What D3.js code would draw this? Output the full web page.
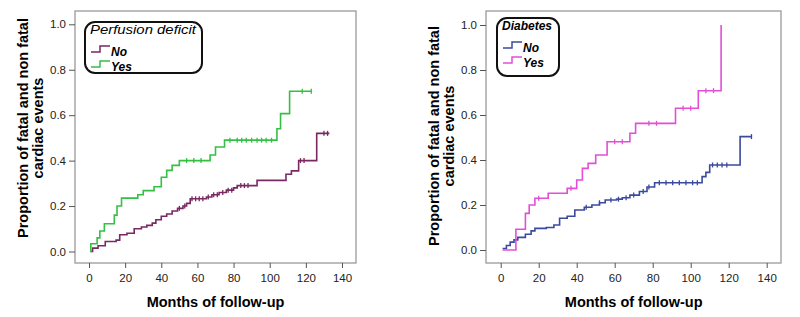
<!DOCTYPE html>
<html>
<head>
<meta charset="utf-8">
<script src="https://cdn.jsdelivr.net/npm/d3@7"></script>
<style>
  body { margin: 0; background: #fff; }
  svg text { font-family: "Liberation Sans", Arial, sans-serif; }
</style>
</head>
<body>
<div id="chart"></div>
<script>
// Step points [month, proportion]
var perfusionNo = [[1,0],[2,0.015],[5,0.025],[9,0.044],[15,0.05],[17,0.074],[21,0.08],[25,0.1],[29,0.108],
  [32,0.115],[35,0.125],[37,0.14],[40,0.155],[43,0.165],[46,0.178],[49,0.19],[52,0.2],[54,0.212],[56,0.232],
  [65,0.24],[68,0.25],[72,0.26],[76,0.27],[80,0.28],[82,0.29],[93,0.313],[109,0.34],[112,0.355],[116,0.4],
  [126,0.52],[133,0.52]];
var perfusionYes = [[0.5,0],[1,0.034],[4.5,0.06],[6,0.09],[8.5,0.122],[14,0.16],[15.5,0.2],[18,0.235],[27,0.25],
  [30,0.268],[36,0.285],[40,0.327],[43,0.357],[46,0.379],[50,0.4],[67,0.425],[70,0.46],[75,0.49],[104,0.54],
  [106,0.607],[111,0.705],[123,0.705]];
var diabetesNo = [[1,0.007],[3,0.02],[5,0.035],[7,0.045],[9,0.056],[13,0.07],[16,0.085],[18,0.096],[24,0.1],
  [28,0.111],[31,0.141],[35,0.15],[39,0.178],[44,0.19],[48,0.2],[52,0.21],[55,0.222],[61,0.226],[64,0.232],
  [68,0.244],[73,0.26],[77,0.28],[81,0.299],[106,0.326],[108,0.345],[110,0.378],[126,0.504],[132,0.504]];
var diabetesYes = [[1,0],[8,0.092],[13,0.163],[15,0.2],[18,0.23],[25,0.252],[35,0.274],[40,0.311],[43,0.363],
  [46,0.385],[50,0.422],[56,0.481],[68,0.519],[71,0.563],[92,0.63],[104,0.708],[116,1.0]];

// Censored observations (months)
var perfusionNoCensor = [50, 53, 57, 59, 61, 63, 66, 69, 71, 74, 77, 79, 84, 86, 88, 117, 119, 130, 132];
var perfusionYesCensor = [54, 58, 62, 78, 82, 84.5, 87, 90, 93, 95.5, 98, 101, 118, 123];
var diabetesNoCensor = [45, 52, 58, 62, 66, 70, 75, 78, 83.5, 87, 90.5, 94, 97.5, 101, 103.5, 111.5, 114, 116.5, 119, 132];
var diabetesYesCensor = [20, 37, 60, 64, 78, 82, 96, 100, 108, 112];

var groups = ["No", "Yes"];
var xTicks = [0, 20, 40, 60, 80, 100, 120, 140];
var yTicks = [0, 0.2, 0.4, 0.6, 0.8, 1.0];

var w = 800, h = 317;
var svg = d3.select("#chart").append("svg").attr("width", w).attr("height", h);

function drawPanel(cfg) {
    var x = d3.scaleLinear().domain([0, 140]).range(cfg.xRange);
    var y = d3.scaleLinear().domain([0, 1]).range(cfg.yRange);
    var g = svg.append("g");

    // plot frame
    g.append("rect")
        .attr("x", cfg.box[0]).attr("y", cfg.box[1])
        .attr("width", cfg.box[2] - cfg.box[0]).attr("height", cfg.box[3] - cfg.box[1])
        .attr("fill", "#fff").attr("stroke", "#9a9a9a").attr("stroke-width", 1.3);

    var xAxis = d3.axisBottom(x).tickValues(xTicks).tickFormat(d3.format("d")).tickSize(5).tickSizeOuter(0);
    var yAxis = d3.axisLeft(y).tickValues(yTicks).tickFormat(d3.format(".1f")).tickSize(6).tickSizeOuter(0);

    var gx = g.append("g").attr("transform", "translate(0," + cfg.box[3] + ")").call(xAxis);
    var gy = g.append("g").attr("transform", "translate(" + cfg.box[0] + ",0)").call(yAxis);
    [gx, gy].forEach(function(a) {
        a.select(".domain").remove();
        a.selectAll("line").attr("stroke", "#555");
        a.selectAll("text").attr("fill", "#222").style("font-size", "11.5px");
    });
    gx.selectAll("text").attr("dy", "0.9em").attr("y", 9);
    gy.selectAll("text").attr("x", -9);

    var line = d3.line()
        .x(function(d) { return x(d[0]); })
        .y(function(d) { return y(d[1]); })
        .curve(d3.curveStepAfter);

    cfg.series.forEach(function(s) {
        g.append("path").datum(s.data)
            .attr("d", line).attr("fill", "none")
            .attr("stroke", s.color).attr("stroke-width", 1.6);

        // censor ticks sit on the step value at that month
        var bis = d3.bisector(function(d) { return d[0]; }).right;
        g.selectAll(null).data(s.censor).enter().append("line")
            .attr("x1", function(t) { return x(t); })
            .attr("x2", function(t) { return x(t); })
            .attr("y1", function(t) { return y(s.data[Math.max(0, bis(s.data, t) - 1)][1]) - 2.5; })
            .attr("y2", function(t) { return y(s.data[Math.max(0, bis(s.data, t) - 1)][1]) + 2.5; })
            .attr("stroke", s.color).attr("stroke-width", 1.3);
    });

    // axis titles
    g.append("text")
        .attr("x", (x(0) + x(140)) / 2).attr("y", 307)
        .attr("text-anchor", "middle")
        .style("font-size", "14.5px").style("font-weight", "bold")
        .text("Months of follow-up");

    var ty = g.append("text")
        .attr("transform", "translate(" + cfg.yTitleX + "," + cfg.yTitleY + ") rotate(-90)")
        .attr("text-anchor", "middle")
        .style("font-size", "14.5px").style("font-weight", "bold");
    ty.append("tspan").attr("x", 0).attr("y", 0).text("Proportion of fatal and non fatal");
    ty.append("tspan").attr("x", 0).attr("y", 15).text("cardiac events");

    // legend
    var L = cfg.legend;
    g.append("rect")
        .attr("x", L.x).attr("y", L.y).attr("width", L.w).attr("height", L.h)
        .attr("rx", 10).attr("ry", 10)
        .attr("fill", "#fff").attr("stroke", "#111").attr("stroke-width", 2);
    g.append("text")
        .attr("x", L.x + 5).attr("y", L.y + 12)
        .style("font-size", "12.5px").style("font-style", "italic").style("font-weight", L.titleWeight)
        .attr("textLength", L.titleLen).attr("lengthAdjust", "spacingAndGlyphs")
        .text(L.title);
    cfg.series.forEach(function(s, i) {
        var by = L.y + 30 + i * 15;
        var sx = L.x + 6;
        g.append("path")
            .attr("d", "M" + sx + "," + by + "H" + (sx + 9) + "V" + (by - 6) + "H" + (sx + 19))
            .attr("fill", "none").attr("stroke", s.color).attr("stroke-width", 1.5);
        g.append("text")
            .attr("x", sx + 20).attr("y", by + 4)
            .style("font-size", "12px").style("font-style", "italic").style("font-weight", "bold")
            .text(groups[i]);
    });
}

drawPanel({
    xRange: [89, 342], yRange: [251.5, 24.3], box: [75, 11, 356, 263],
    yTitleX: 28, yTitleY: 128,
    legend: { x: 85, y: 22, w: 117, h: 51, title: "Perfusion deficit", titleLen: 106, titleWeight: "normal" },
    series: [
        { data: perfusionNo, censor: perfusionNoCensor, color: "#7a2862" },
        { data: perfusionYes, censor: perfusionYesCensor, color: "#35bf45" }
    ]
});

drawPanel({
    xRange: [500.7, 766.7], yRange: [250, 25], box: [486, 11, 781, 263],
    yTitleX: 439, yTitleY: 136,
    legend: { x: 497, y: 18, w: 62, h: 58, title: "Diabetes", titleLen: 50, titleWeight: "bold" },
    series: [
        { data: diabetesNo, censor: diabetesNoCensor, color: "#3b4a9e" },
        { data: diabetesYes, censor: diabetesYesCensor, color: "#e24fd6" }
    ]
});
</script>
</body>
</html>
